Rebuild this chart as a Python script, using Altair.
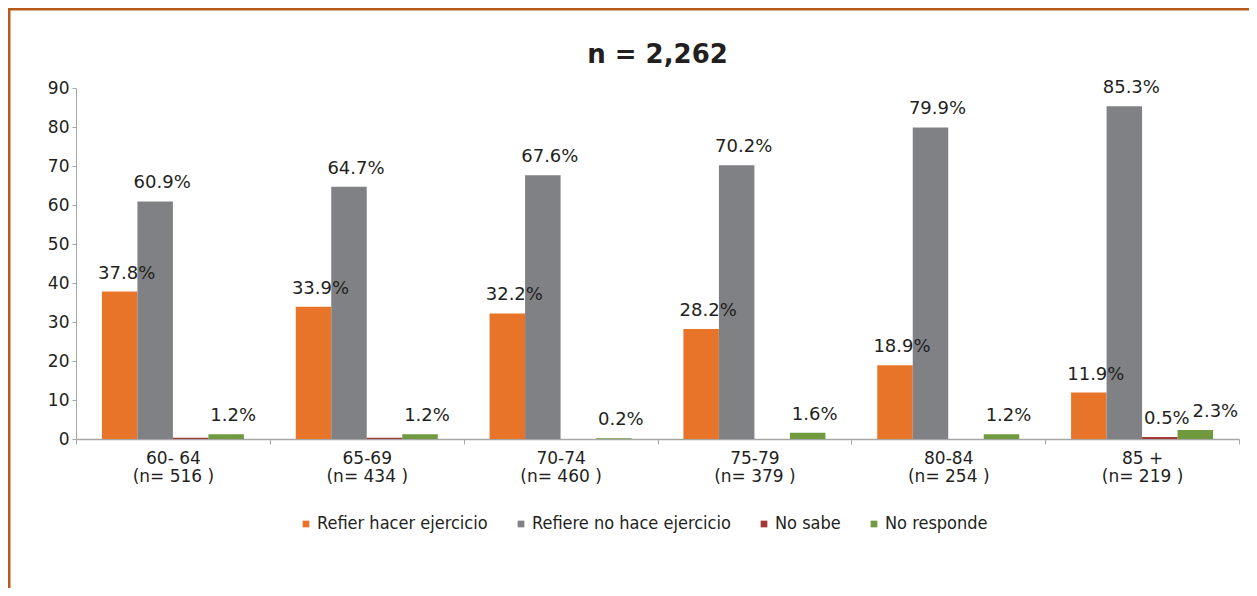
import altair as alt
import pandas as pd

categories = ["60- 64|(n= 516 )", "65-69|(n= 434 )", "70-74|(n= 460 )",
              "75-79|(n= 379 )", "80-84|(n= 254 )", "85 +|(n= 219 )"]
series = ["Refier hacer ejercicio", "Refiere no hace ejercicio", "No sabe", "No responde"]
hace = [37.8, 33.9, 32.2, 28.2, 18.9, 11.9]
no_hace = [60.9, 64.7, 67.6, 70.2, 79.9, 85.3]
no_sabe = [0.3, 0.3, 0.0, 0.0, 0.0, 0.5]
no_responde = [1.2, 1.2, 0.2, 1.6, 1.2, 2.3]
no_sabe_labeled = [False, False, False, False, False, True]
colors = ["#E8742A", "#808185", "#A33A35", "#6F9A40"]
title_text = "n = 2,262"

rows = []
for i, c in enumerate(categories):
    for s, vals in zip(series, [hace, no_hace, no_sabe, no_responde]):
        v = vals[i]
        show = (s != "No sabe") or no_sabe_labeled[i]
        shifted = (s == "No responde") and (i == len(categories) - 1)
        rows.append({"cat": c, "serie": s, "value": v,
                     "label": f"{v:.1f}%", "show": show, "shifted": shifted})
df = pd.DataFrame(rows)

W, H = 1163, 351
LABEL_FONT = "DejaVu Sans"
LEGEND_FONT = "DejaVu Sans Condensed, Liberation Sans Narrow, Roboto, sans-serif"
TXT = "#231F20"

yaxis = alt.Axis(values=list(range(0, 91, 10)), grid=False, labelOverlap=False,
                 labelFont=LABEL_FONT, labelFontSize=17, labelColor=TXT,
                 domainColor="#A6A6A6", tickColor="#A6A6A6", tickSize=4,
                 labelPadding=3)

base = alt.Chart(df).encode(
    x=alt.X("cat:N", sort=categories, title=None,
            scale=alt.Scale(paddingInner=0, paddingOuter=0),
            axis=alt.Axis(labelExpr="split(datum.label, '|')", labelAngle=0,
                          tickBand="extent", labelFont=LABEL_FONT, labelFontSize=17,
                          labelColor=TXT, labelLineHeight=18, labelPadding=6,
                          domainColor="#A6A6A6", tickColor="#A6A6A6",
                          domainWidth=1.5, tickSize=5, labelBaseline="top")),
    xOffset=alt.XOffset("serie:N", sort=series,
                        scale=alt.Scale(paddingInner=0, paddingOuter=0.73)),
    y=alt.Y("value:Q", title=None, scale=alt.Scale(domain=[0, 90], nice=False),
            axis=yaxis),
)

bars = base.mark_bar().encode(
    color=alt.Color("serie:N", sort=series,
                    scale=alt.Scale(domain=series, range=colors),
                    legend=alt.Legend(orient="none", legendX=221, legendY=427,
                                      direction="horizontal", title=None,
                                      symbolType="square", symbolSize=45,
                                      symbolStrokeWidth=0, labelLimit=0,
                                      labelFont=LEGEND_FONT,
                                      labelFontSize=18, labelColor=TXT,
                                      labelOffset=2, columnPadding=24)),
)

text = base.transform_filter("datum.show && !datum.shifted").mark_text(
    baseline="bottom", dy=-9, dx=7, fontSize=18, font=LABEL_FONT, color=TXT
).encode(text="label:N")

text_shifted = base.transform_filter("datum.shifted").mark_text(
    baseline="bottom", dy=-9, dx=20, fontSize=18, font=LABEL_FONT, color=TXT
).encode(text="label:N")

one = pd.DataFrame({"t": [title_text]})
title_mark = alt.Chart(one).mark_text(
    font="DejaVu Sans", fontSize=26, fontWeight="bold", color=TXT,
    align="center", baseline="alphabetic"
).encode(x=alt.value(W / 2), y=alt.value(-25), text="t:N")

top_border = alt.Chart(one).mark_rule(color="#B85A1C", strokeWidth=3).encode(
    x=alt.value(-68), x2=alt.value(W + 12), y=alt.value(-79), y2=alt.value(-79))
left_border = alt.Chart(one).mark_rule(color="#B85A1C", strokeWidth=3).encode(
    x=alt.value(-67), x2=alt.value(-67), y=alt.value(-80), y2=alt.value(H + 160))

chart = alt.layer(bars, text, text_shifted, title_mark, top_border, left_border).properties(
    width=W, height=H,
    autosize=alt.AutoSizeParams(type="none"),
    padding={"left": 68, "top": 80, "right": 10, "bottom": 149},
).configure_view(stroke=None)

chart.save("out.html", embed_options={"renderer": "svg", "actions": False})
